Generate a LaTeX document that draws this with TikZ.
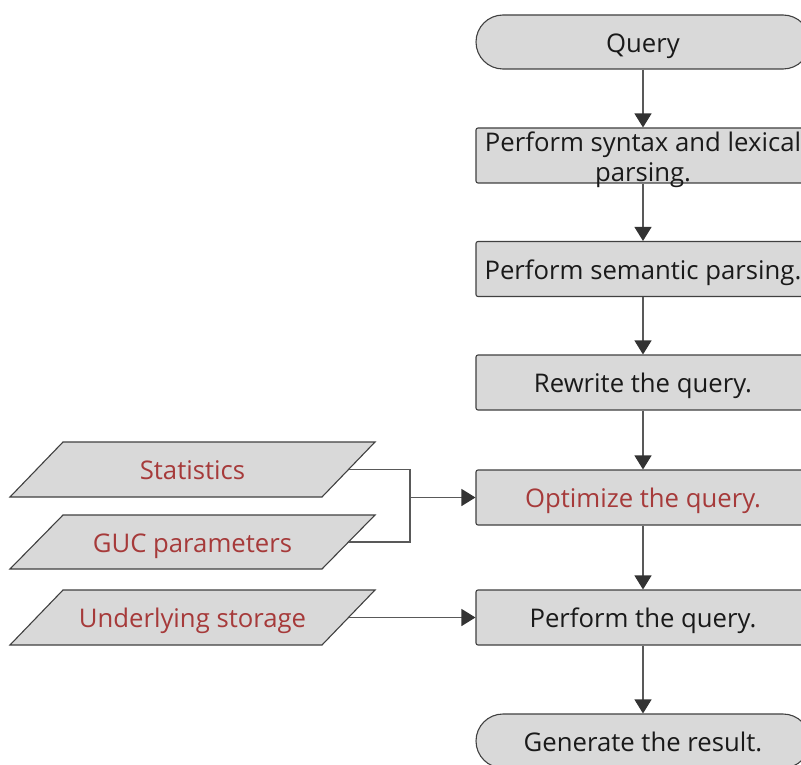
\documentclass[tikz,border=0pt]{standalone}
\usepackage{fontspec}
\setmainfont{Open Sans}
\usetikzlibrary{arrows.meta,calc}
\definecolor{boxfill}{HTML}{D9D9D9}
\definecolor{boxline}{HTML}{404040}
\definecolor{conn}{HTML}{595959}
\definecolor{tipc}{HTML}{333333}
\definecolor{redtext}{HTML}{A63A3A}
\definecolor{txt}{HTML}{1A1A1A}
\tikzset{
  base/.style={draw=boxline, fill=boxfill, line width=1.1pt, inner sep=0pt,
    font=\fontsize{25.7}{28.5}\selectfont, text=txt, text height=21.5pt, text depth=1pt},
  procbox/.style={base, rectangle, rounded corners=2pt, minimum width=334pt, minimum height=55pt},
  termbox/.style={base, rectangle, rounded corners=27pt, minimum width=334pt, minimum height=54pt},
  paraline/.style={draw=boxline, fill=boxfill, line width=1.1pt},
  paratext/.style={inner sep=0pt, font=\fontsize{25.7}{28.5}\selectfont, text=redtext,
    text height=21.5pt, text depth=1pt},
  boxtext/.style={inner sep=0pt, font=\fontsize{25.7}{30.5}\selectfont, text=txt, align=center},
  flow/.style={draw=conn, line width=1.2pt, -{Triangle[width=17pt,length=14pt,fill=tipc,color=tipc]}},
  plain/.style={draw=conn, line width=1.2pt}
}
\begin{document}
\begin{tikzpicture}[x=1pt,y=-1pt]
\clip (0,0) rectangle (801,765);
\fill[white] (0,0) rectangle (801,765);
\node[termbox] (query) at (643,42) {Query};
\node[procbox] (syn) at (643,155.5) {};
\node[boxtext] (syntext) at ([yshift=-4.5pt]syn.center) {Perform syntax and lexical\\parsing.};
\node[procbox] (sem) at (643,269) {Perform semantic parsing.};
\node[procbox] (rew) at (643,382.5) {Rewrite the query.};
\node[procbox, text=redtext] (opt) at (643,497.5) {Optimize the query.};
\node[procbox] (perf) at (643,617.5) {Perform the query.};
\node[termbox] (res) at (643,741) {Generate the result.};

% parallelograms (data inputs)
\path[paraline] (63,442) -- (375,442) -- (322,497) -- (10,497) -- cycle;
\node[paratext] (stat) at (192.5,469.5) {Statistics};
\coordinate (statr) at (348.5,469.5);
\path[paraline] (63,515) -- (375,515) -- (322,569) -- (10,569) -- cycle;
\node[paratext] (guc) at (192.5,542) {GUC parameters};
\coordinate (gucr) at (348.5,542);
\path[paraline] (63,590) -- (375,590) -- (322,645) -- (10,645) -- cycle;
\node[paratext] (stor) at (192.5,617.5) {Underlying storage};
\coordinate (storr) at (348.5,617.5);

\draw[flow] (query) -- (syn);
\draw[flow] (syn) -- (sem);
\draw[flow] (sem) -- (rew);
\draw[flow] (rew) -- (opt);
\draw[flow] (opt) -- (perf);
\draw[flow] (perf) -- (res);

\coordinate (jx) at (410,469.5);
\coordinate (j) at (jx |- opt.west);
\draw[plain] (statr) -- (jx) |- (gucr);
\draw[flow] (j) -- (opt.west);
\draw[flow] (storr) -- (perf.west);
\end{tikzpicture}
\end{document}
